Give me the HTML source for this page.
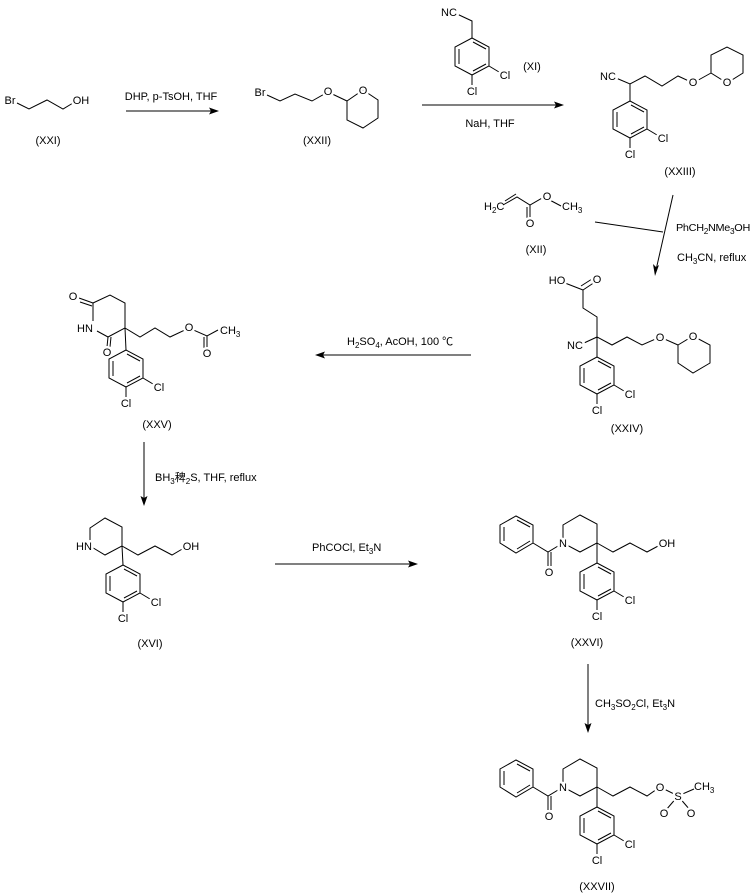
<!DOCTYPE html>
<html><head><meta charset="utf-8"><style>
html,body{margin:0;padding:0;background:#fff;}
svg{display:block;}
text{font-family:"Liberation Sans","Noto Sans CJK SC",sans-serif;font-size:11px;fill:#000;}
.a{text-anchor:middle;paint-order:stroke;stroke:#fff;stroke-width:5px;stroke-linejoin:round;}
.s{font-size:8px;}
line,polyline,polygon.r{stroke:#000;stroke-width:1;fill:none;}
polygon.h{fill:#000;stroke:none;}
</style></head><body>
<svg width="754" height="896" viewBox="0 0 754 896" xmlns="http://www.w3.org/2000/svg">

<!-- XXI -->
<polyline points="17,103 29,109 47,100 63,109 73,103"/>
<text class="a" x="10" y="104">Br</text>
<text class="a" x="81" y="104">OH</text>
<text class="a" x="48" y="144">(XXI)</text>

<!-- arrow 1 -->
<line x1="126" y1="111" x2="214" y2="111"/>
<polygon class="h" points="219,111 209,107.5 211,111 209,114.5"/>
<text class="a" x="171" y="100">DHP, p-TsOH, THF</text>

<!-- XXII -->
<polyline points="267,95 280,101 295,94 312,101 328,92 347,101"/>
<polygon class="r" points="347,101 363,90 378,100 378,118 363,128 347,120"/>
<text class="a" x="260" y="96">Br</text>
<text class="a" x="328" y="95">O</text>
<text class="a" x="363" y="94">O</text>
<text class="a" x="317" y="144">(XXII)</text>

<!-- XI -->
<polyline points="457,14 472,21 472,38"/>
<text class="a" x="449" y="16">NC</text>
<g transform="translate(472,38)">
<polygon class="r" points="0,0 17,9 17,28 0,37 -17,28 -17,9"/>
<line x1="1" y1="4" x2="14" y2="11"/><line x1="-13" y1="11" x2="-13" y2="26"/><line x1="14" y1="26" x2="1" y2="33"/>
<line x1="17" y1="28" x2="27" y2="34"/><line x1="0" y1="37" x2="0" y2="47"/>
<text class="a" x="33" y="41">Cl</text><text class="a" x="0" y="57">Cl</text></g>
<text class="a" x="532" y="70">(XI)</text>

<!-- arrow 2 -->
<line x1="422" y1="105" x2="559" y2="105"/>
<polygon class="h" points="564,105 554,101.5 556,105 554,108.5"/>
<text class="a" x="490" y="127">NaH, THF</text>

<!-- XXIII -->
<polyline points="616,78 630,84 645,76 662,86 678,76 693,83 711,73"/>
<polygon class="r" points="711,73 711,55 727,47 743,55 743,73 727,83"/>
<line x1="630" y1="84" x2="630" y2="101"/>
<text class="a" x="608" y="80">NC</text>
<text class="a" x="693" y="86">O</text>
<text class="a" x="727" y="86">O</text>
<g transform="translate(630,101)">
<polygon class="r" points="0,0 17,9 17,28 0,37 -17,28 -17,9"/>
<line x1="1" y1="4" x2="14" y2="11"/><line x1="-13" y1="11" x2="-13" y2="26"/><line x1="14" y1="26" x2="1" y2="33"/>
<line x1="17" y1="28" x2="27" y2="34"/><line x1="0" y1="37" x2="0" y2="47"/>
<text class="a" x="33" y="41">Cl</text><text class="a" x="0" y="57">Cl</text></g>
<text class="a" x="680" y="175">(XXIII)</text>

<!-- XII -->
<polyline points="503,205 517,197 530,205 544,197 561,206"/>
<line x1="505" y1="201" x2="516" y2="194"/>
<line x1="530" y1="205" x2="530" y2="219"/>
<line x1="527" y1="207" x2="527" y2="219"/>
<text x="484" y="210">H<tspan class="s" dy="3">2</tspan><tspan dy="-3">C</tspan></text>
<text class="a" x="530" y="227">O</text>
<text class="a" x="547" y="200">O</text>
<text x="562" y="210">CH<tspan class="s" dy="3">3</tspan></text>
<text class="a" x="536" y="253">(XII)</text>

<!-- arrow 3 -->
<line x1="673" y1="195" x2="656" y2="270"/>
<polygon class="h" points="655,276 653,264 656,267 659,265"/>
<line x1="595" y1="222" x2="663" y2="232"/>
<text x="676" y="231" style="font-size:10.5px;letter-spacing:-0.3px" textLength="74" lengthAdjust="spacingAndGlyphs">PhCH<tspan class="s" dy="3">2</tspan><tspan dy="-3">NMe</tspan><tspan class="s" dy="3">3</tspan><tspan dy="-3">OH</tspan></text>
<text x="677" y="261">CH<tspan class="s" dy="3">3</tspan><tspan dy="-3">CN, reflux</tspan></text>

<!-- XXIV -->
<polyline points="565,283 583,290 583,308 597,317 597,337 612,345 627,337 642,345 660,337 678,345"/>
<line x1="583" y1="290" x2="595" y2="282"/>
<line x1="581" y1="286" x2="592" y2="279"/>
<line x1="584" y1="343" x2="597" y2="337"/>
<line x1="597" y1="337" x2="597" y2="357"/>
<polygon class="r" points="678,345 693,336 710,345 710,363 693,373 678,363"/>
<text class="a" x="557" y="284">HO</text>
<text class="a" x="597" y="283">O</text>
<text class="a" x="575" y="349">NC</text>
<text class="a" x="660" y="341">O</text>
<text class="a" x="693" y="340">O</text>
<g transform="translate(597,357)">
<polygon class="r" points="0,0 17,9 17,28 0,37 -17,28 -17,9"/>
<line x1="1" y1="4" x2="14" y2="11"/><line x1="-13" y1="11" x2="-13" y2="26"/><line x1="14" y1="26" x2="1" y2="33"/>
<line x1="17" y1="28" x2="27" y2="34"/><line x1="0" y1="37" x2="0" y2="47"/>
<text class="a" x="33" y="41">Cl</text><text class="a" x="0" y="57">Cl</text></g>
<text class="a" x="627" y="432">(XXIV)</text>

<!-- arrow 4 -->
<line x1="471" y1="355" x2="320" y2="355"/>
<polygon class="h" points="315,355 325,351.5 323,355 325,358.5"/>
<text x="347" y="345">H<tspan class="s" dy="3">2</tspan><tspan dy="-3">SO</tspan><tspan class="s" dy="3">4</tspan><tspan dy="-3">, AcOH, 100 ℃</tspan></text>

<!-- XXV -->
<polyline points="93,321 93,303 110,295 125,303 125,328 108,337 97,331"/>
<line x1="79" y1="298" x2="93" y2="303"/>
<line x1="80" y1="302" x2="92" y2="306"/>
<line x1="108" y1="337" x2="107" y2="347"/>
<line x1="111" y1="337" x2="110" y2="347"/>
<polyline points="125,328 140,337 155,328 170,337 189,328 207,336 218,330"/>
<line x1="207" y1="336" x2="207" y2="348"/>
<line x1="204" y1="337" x2="204" y2="348"/>
<line x1="125" y1="328" x2="126" y2="350"/>
<text class="a" x="73" y="300">O</text>
<text class="a" x="85" y="332">HN</text>
<text class="a" x="107" y="356">O</text>
<text class="a" x="189" y="331">O</text>
<text class="a" x="207" y="357">O</text>
<text x="220" y="334">CH<tspan class="s" dy="3">3</tspan></text>
<g transform="translate(126,350)">
<polygon class="r" points="0,0 17,9 17,28 0,37 -17,28 -17,9"/>
<line x1="1" y1="4" x2="14" y2="11"/><line x1="-13" y1="11" x2="-13" y2="26"/><line x1="14" y1="26" x2="1" y2="33"/>
<line x1="17" y1="28" x2="27" y2="34"/><line x1="0" y1="37" x2="0" y2="47"/>
<text class="a" x="33" y="41">Cl</text><text class="a" x="0" y="57">Cl</text></g>
<text class="a" x="157" y="428">(XXV)</text>

<!-- arrow 5 -->
<line x1="144" y1="442" x2="144" y2="500"/>
<polygon class="h" points="144,506 140.5,496 144,498 147.5,496"/>
<text x="155" y="481">BH<tspan class="s" dy="3">3</tspan><tspan dy="-3">稗</tspan><tspan class="s" dy="3">2</tspan><tspan dy="-3">S, THF, reflux</tspan></text>

<!-- XVI -->
<polygon class="r" points="90,528 105,518 122,527 122,546 105,555 90,546"/>
<polyline points="122,546 138,555 155,546 172,555 184,548"/>
<line x1="122" y1="546" x2="123" y2="565"/>
<text class="a" x="84" y="550">HN</text>
<text class="a" x="191" y="550">OH</text>
<g transform="translate(123,565)">
<polygon class="r" points="0,0 17,9 17,28 0,37 -17,28 -17,9"/>
<line x1="1" y1="4" x2="14" y2="11"/><line x1="-13" y1="11" x2="-13" y2="26"/><line x1="14" y1="26" x2="1" y2="33"/>
<line x1="17" y1="28" x2="27" y2="34"/><line x1="0" y1="37" x2="0" y2="47"/>
<text class="a" x="33" y="41">Cl</text><text class="a" x="0" y="57">Cl</text></g>
<text class="a" x="150" y="647">(XVI)</text>

<!-- arrow 6 -->
<line x1="275" y1="564" x2="413" y2="564"/>
<polygon class="h" points="418,564 408,560.5 410,564 408,567.5"/>
<text x="312" y="551">PhCOCl, Et<tspan class="s" dy="3">3</tspan><tspan dy="-3">N</tspan></text>

<!-- XXVI -->
<g>
<polygon class="r" points="516,516 533,525 533,543 516,553 500,543 500,525"/>
<line x1="517" y1="520" x2="530" y2="527"/><line x1="504" y1="527" x2="504" y2="541"/><line x1="530" y1="541" x2="517" y2="549"/>
<polyline points="533,543 548,552 563,543"/>
<line x1="548" y1="552" x2="548" y2="566"/><line x1="551" y1="552" x2="551" y2="566"/>
<polygon class="r" points="563,543 563,525 580,515 597,524 597,543 580,552"/>
<polyline points="597,543 613,552 630,543 647,552 660,545"/>
<line x1="597" y1="543" x2="597" y2="563"/>
<text class="a" x="563" y="547">N</text>
<text class="a" x="549" y="576">O</text>
<text class="a" x="667" y="547">OH</text>
<g transform="translate(597,563)">
<polygon class="r" points="0,0 17,9 17,28 0,37 -17,28 -17,9"/>
<line x1="1" y1="4" x2="14" y2="11"/><line x1="-13" y1="11" x2="-13" y2="26"/><line x1="14" y1="26" x2="1" y2="33"/>
<line x1="17" y1="28" x2="27" y2="34"/><line x1="0" y1="37" x2="0" y2="47"/>
<text class="a" x="33" y="41">Cl</text><text class="a" x="0" y="57">Cl</text></g>
<text class="a" x="587" y="646">(XXVI)</text>
</g>

<!-- arrow 7 -->
<line x1="588" y1="664" x2="588" y2="727"/>
<polygon class="h" points="588,733 584.5,723 588,725 591.5,723"/>
<text x="595" y="707">CH<tspan class="s" dy="3">3</tspan><tspan dy="-3">SO</tspan><tspan class="s" dy="3">2</tspan><tspan dy="-3">Cl, Et</tspan><tspan class="s" dy="3">3</tspan><tspan dy="-3">N</tspan></text>

<!-- XXVII -->
<g transform="translate(0,244)">
<polygon class="r" points="516,516 533,525 533,543 516,553 500,543 500,525"/>
<line x1="517" y1="520" x2="530" y2="527"/><line x1="504" y1="527" x2="504" y2="541"/><line x1="530" y1="541" x2="517" y2="549"/>
<polyline points="533,543 548,552 563,543"/>
<line x1="548" y1="552" x2="548" y2="566"/><line x1="551" y1="552" x2="551" y2="566"/>
<polygon class="r" points="563,543 563,525 580,515 597,524 597,543 580,552"/>
<polyline points="597,543 613,552 630,543 647,552 660,543 678,552 694,545"/>
<line x1="678" y1="552" x2="666" y2="566"/><line x1="678" y1="552" x2="690" y2="566"/>
<line x1="597" y1="543" x2="597" y2="563"/>
<text class="a" x="563" y="547">N</text>
<text class="a" x="549" y="576">O</text>
<text class="a" x="660" y="547">O</text>
<text class="a" x="678" y="556">S</text>
<text class="a" x="664" y="573">O</text>
<text class="a" x="691" y="573">O</text>
<text x="694" y="546">CH<tspan class="s" dy="3">3</tspan></text>
<g transform="translate(597,563)">
<polygon class="r" points="0,0 17,9 17,28 0,37 -17,28 -17,9"/>
<line x1="1" y1="4" x2="14" y2="11"/><line x1="-13" y1="11" x2="-13" y2="26"/><line x1="14" y1="26" x2="1" y2="33"/>
<line x1="17" y1="28" x2="27" y2="34"/><line x1="0" y1="37" x2="0" y2="47"/>
<text class="a" x="33" y="41">Cl</text><text class="a" x="0" y="57">Cl</text></g>
<text class="a" x="597" y="646">(XXVII)</text>
</g>

</svg>
</body></html>
